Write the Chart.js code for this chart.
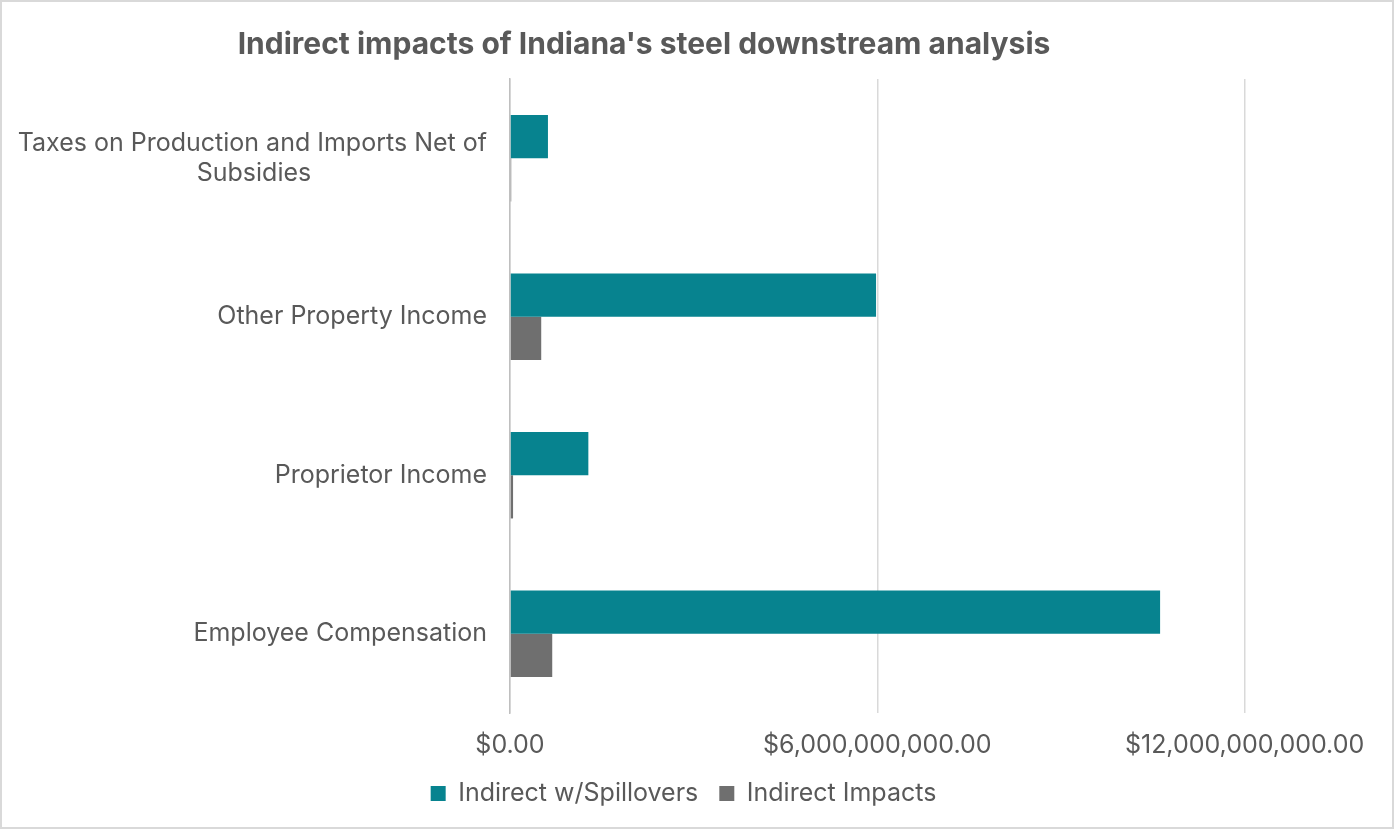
<!DOCTYPE html>
<html>
<head>
<meta charset="utf-8">
<script src="https://cdn.jsdelivr.net/npm/chart.js@4.4.1/dist/chart.umd.min.js"></script>
<style>
  html, body { margin: 0; padding: 0; background: #fff; }
  #wrap { width: 1394px; height: 829px; }
</style>
</head>
<body>
<div id="wrap"><canvas id="steelChart" width="1394" height="829"></canvas></div>
<script>
var chartTitle = "Indirect impacts of Indiana's steel downstream analysis";
var categories = [
    ['Taxes on Production and Imports Net of', 'Subsidies'],
    'Other Property Income',
    'Proprietor Income',
    'Employee Compensation'
];
var spilloverValues = [620000000, 5980000000, 1280000000, 10620000000];
var indirectValues = [20000000, 510000000, 50000000, 690000000];
var tickValues = [0, 6000000000, 12000000000];

var textColor = '#595959';
var baseFont = 'Inter, "Noto Sans", sans-serif';
var labelSize = 25;

// $12,000,000,000.00 style, without relying on the locale
function money(v) {
    var s = Math.round(Number(v)).toString();
    var out = '';
    while (s.length > 3) {
        out = ',' + s.slice(-3) + out;
        s = s.slice(0, -3);
    }
    return '$' + s + out + '.00';
}

// centre the lines of a wrapped label by padding the shorter ones with spaces
var measureCtx = document.createElement('canvas').getContext('2d');
measureCtx.font = labelSize + 'px ' + baseFont;
function centreLines(label) {
    if (!Array.isArray(label)) return label;
    var widths = label.map(function (l) { return measureCtx.measureText(l).width; });
    var maxW = Math.max.apply(null, widths);
    var sp = measureCtx.measureText(' ').width;
    return label.map(function (l, i) {
        var n = Math.round((maxW - widths[i]) / 2 / sp);
        return l + ' '.repeat(n);
    });
}

var titlePlugin = {
    id: 'titleAndFrame',
    beforeDraw: function (chart) {
        var ctx = chart.ctx;
        ctx.save();
        ctx.fillStyle = '#ffffff';
        ctx.fillRect(0, 0, chart.width, chart.height);
        ctx.restore();
    },
    afterDraw: function (chart) {
        var ctx = chart.ctx;
        ctx.save();
        ctx.font = 'bold 30px ' + baseFont;
        ctx.fillStyle = textColor;
        ctx.textAlign = 'center';
        ctx.textBaseline = 'middle';
        ctx.fillText(chartTitle, 644, 45);
        ctx.strokeStyle = '#d9d9d9';
        ctx.lineWidth = 2;
        ctx.strokeRect(1, 1, chart.width - 2, chart.height - 2);
        ctx.restore();
    }
};

document.addEventListener('DOMContentLoaded', function () {
    var ctx = document.getElementById('steelChart').getContext('2d');
    new Chart(ctx, {
        type: 'bar',
        data: {
            labels: categories,
            datasets: [{
                label: 'Indirect w/Spillovers',
                data: spilloverValues,
                backgroundColor: '#07838f',
                categoryPercentage: 0.545,
                barPercentage: 1
            }, {
                label: 'Indirect Impacts',
                data: indirectValues,
                backgroundColor: '#6f6f6f',
                categoryPercentage: 0.545,
                barPercentage: 1
            }]
        },
        options: {
            indexAxis: 'y',
            responsive: false,
            animation: false,
            layout: { padding: { top: 79, right: 27, bottom: 13, left: 0 } },
            scales: {
                x: {
                    min: 0,
                    max: 14000000000,
                    afterBuildTicks: function (scale) {
                        scale.ticks = tickValues.map(function (v) { return { value: v }; });
                    },
                    afterFit: function (scale) { scale.height = 47; },
                    grid: { color: '#d9d9d9', lineWidth: 1.5, drawTicks: false },
                    border: { display: false },
                    ticks: {
                        padding: 17,
                        maxRotation: 0,
                        color: textColor,
                        font: { family: baseFont, size: labelSize },
                        callback: function (v) { return money(v); }
                    }
                },
                y: {
                    afterFit: function (scale) { scale.width = 510; },
                    grid: { display: false, drawTicks: false },
                    border: { display: true, color: '#bfbfbf', width: 1.5 },
                    ticks: {
                        padding: 23,
                        color: textColor,
                        font: { family: baseFont, size: labelSize },
                        callback: function (v, i) { return centreLines(categories[i]); }
                    }
                }
            },
            plugins: {
                title: { display: false },
                tooltip: { enabled: false },
                legend: {
                    position: 'bottom',
                    labels: {
                        color: textColor,
                        font: { family: baseFont, size: labelSize },
                        boxWidth: 15,
                        boxHeight: 15,
                        padding: 21
                    }
                }
            }
        },
        plugins: [titlePlugin]
    });
});
</script>
</body>
</html>
